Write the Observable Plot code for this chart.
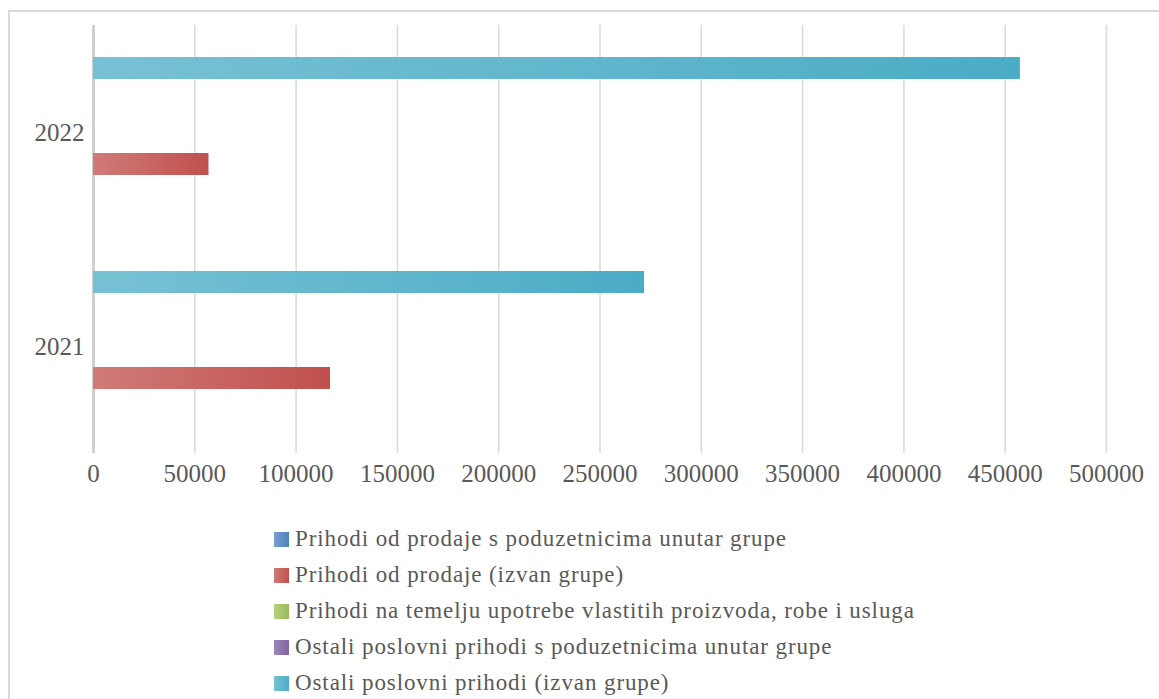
<!DOCTYPE html>
<html>
<head>
<meta charset="utf-8">
<script src="https://cdn.jsdelivr.net/npm/d3@7"></script>
<script src="https://cdn.jsdelivr.net/npm/@observablehq/plot@0.6"></script>
<style>
  html, body { margin: 0; padding: 0; background: #fff; }
  body { width: 1159px; height: 699px; position: relative; overflow: hidden; font-family: "Liberation Serif", serif; }
  #frame { position: absolute; left: 8px; top: 10px; width: 1170px; height: 720px; border: 2px solid #d9d9d9; box-sizing: border-box; }
  #chart { position: absolute; left: 0; top: 0; }
  #legend { position: absolute; left: 274px; top: 521px; color: #595959; font-size: 23px; letter-spacing: 0.9px; }
  .item { height: 36px; display: flex; align-items: center; }
  .sw { width: 15px; height: 15px; margin-right: 6px; flex: none; }
</style>
</head>
<body>
<div id="frame"></div>
<div id="chart"></div>
<div id="legend"></div>
<script>
// ---- data ----
const years = ["2021", "2022"];
const seriesNames = [
  "Prihodi od prodaje s poduzetnicima unutar grupe",
  "Prihodi od prodaje (izvan grupe)",
  "Prihodi na temelju upotrebe vlastitih proizvoda, robe i usluga",
  "Ostali poslovni prihodi s poduzetnicima unutar grupe",
  "Ostali poslovni prihodi (izvan grupe)"
];
const salesWithinGroup = [0, 0];
const salesOutsideGroup = [117000, 57000];
const ownUseRevenue = [0, 0];
const otherWithinGroup = [0, 0];
const otherOutsideGroup = [272000, 457500];
const xTicks = [0, 50000, 100000, 150000, 200000, 250000, 300000, 350000, 400000, 450000, 500000];
const seriesColors = [
  ["#7a9fd1", "#4f81bd"],
  ["#d07b79", "#c0504d"],
  ["#b6d07e", "#9bbb59"],
  ["#9c85bd", "#8064a2"],
  ["#78c1d4", "#4bacc6"]
];

const seriesValues = [salesWithinGroup, salesOutsideGroup, ownUseRevenue, otherWithinGroup, otherOutsideGroup];
const rows = [];
seriesNames.forEach((s, i) => years.forEach((y, j) => rows.push({series: s, year: y, value: seriesValues[i][j]})));

const defs = () => {
  const d = d3.create("svg:defs");
  seriesColors.forEach((c, i) => {
    const g = d.append("linearGradient").attr("id", "g" + i).attr("x1", 0).attr("x2", 1).attr("y1", 0).attr("y2", 0);
    g.append("stop").attr("offset", "0%").attr("stop-color", c[0]);
    g.append("stop").attr("offset", "100%").attr("stop-color", c[1]);
  });
  return d.node();
};

const chart = Plot.plot({
  width: 1159,
  height: 500,
  marginLeft: 93,
  marginRight: 53,
  marginTop: 25,
  marginBottom: 47,
  style: {fontFamily: "Liberation Serif", fontSize: "25px", color: "#595959", background: "transparent"},
  x: {domain: [0, 500000], ticks: xTicks, tickFormat: d => String(d), tickSize: 0, tickPadding: 11, label: null},
  y: {domain: seriesNames.slice().reverse(), axis: null, paddingInner: 0.3125, paddingOuter: 1.0},
  fy: {domain: ["2022", "2021"], padding: 0, axis: "left", tickSize: 0, tickPadding: 9, label: null},
  marks: [
    defs,
    Plot.ruleX(xTicks.slice(1), {stroke: "#d9d9d9", strokeWidth: 1.5}),
    Plot.ruleX([0], {stroke: "#d0d0d0", strokeWidth: 3}),
    ...seriesNames.map((s, i) => Plot.barX(rows.filter(r => r.series === s && r.value > 0), {
      x: "value", y: "series", fy: "year", fill: `url(#g${i})`
    }))
  ]
});
document.getElementById("chart").appendChild(chart);

const legend = document.getElementById("legend");
seriesNames.forEach((s, i) => {
  const item = document.createElement("div");
  item.className = "item";
  const sw = document.createElement("span");
  sw.className = "sw";
  sw.style.background = `linear-gradient(to right, ${seriesColors[i][0]}, ${seriesColors[i][1]})`;
  const t = document.createElement("span");
  t.textContent = s;
  item.appendChild(sw);
  item.appendChild(t);
  legend.appendChild(item);
});
</script>
</body>
</html>
